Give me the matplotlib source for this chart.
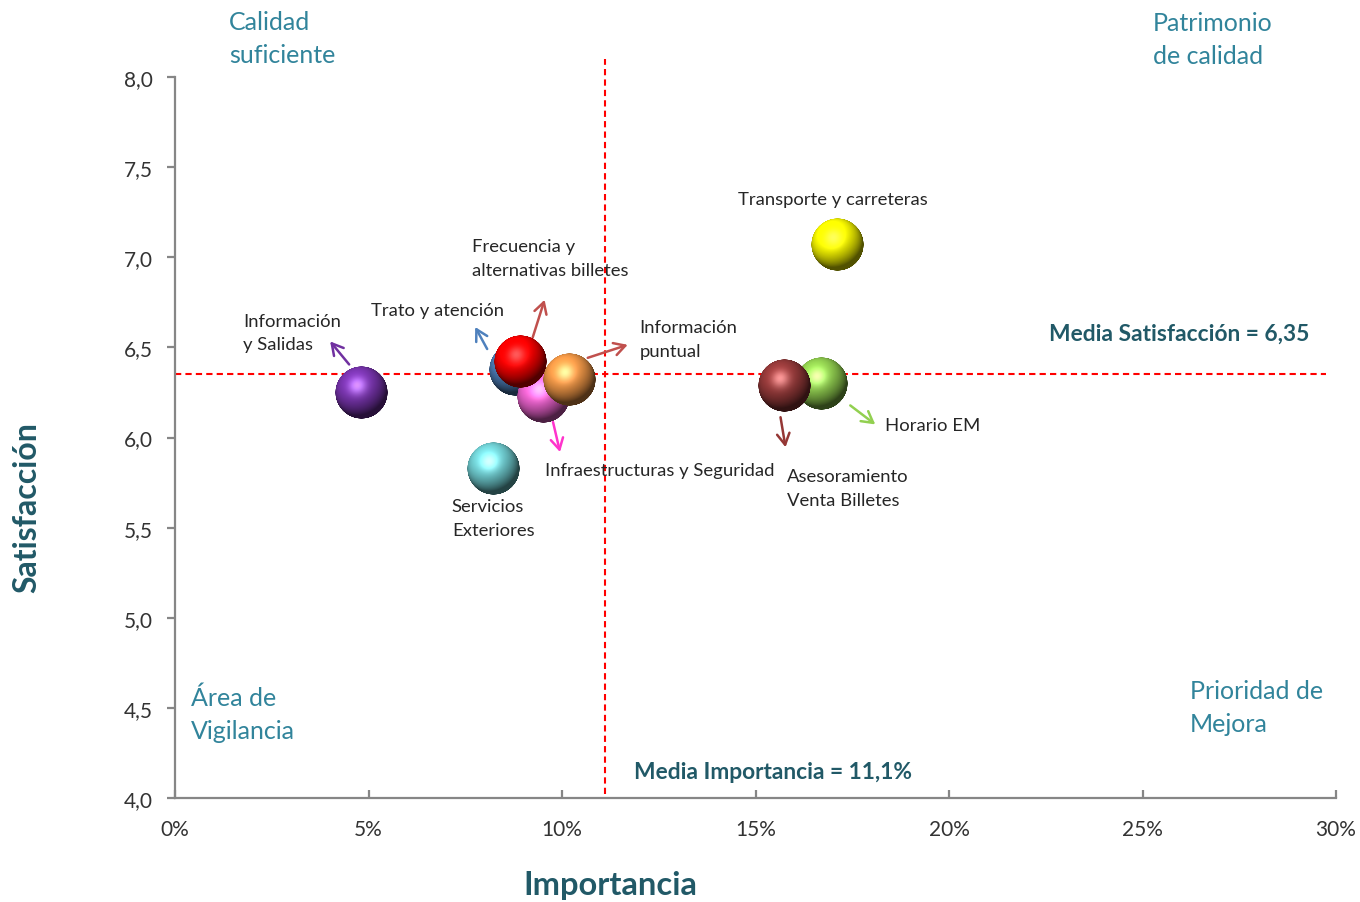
import matplotlib
matplotlib.use('Agg')
import matplotlib.pyplot as plt
import matplotlib.transforms as mtransforms
from matplotlib.offsetbox import OffsetImage, AnnotationBbox
from matplotlib.ticker import FuncFormatter, MultipleLocator
import numpy as np

plt.rcParams['font.family'] = ['Lato', 'DejaVu Sans']

# Datos (orden de dibujo = orden de solape)
categorias = ['Información\ny Salidas', 'Servicios\nExteriores', 'Trato y atención',
              'Infraestructuras y Seguridad', 'Frecuencia y\nalternativas billetes',
              'Información\npuntual', 'Horario EM', 'Asesoramiento\nVenta Billetes',
              'Transporte y carreteras']
importancia = [4.81, 8.24, 8.79, 9.51, 8.93, 10.20, 16.70, 15.75, 17.12]   # %
satisfaccion = [6.25, 5.83, 6.38, 6.23, 6.42, 6.32, 6.30, 6.29, 7.07]
media_importancia = 11.1
media_satisfaccion = 6.35

colores = ['#7a35b0', '#72d2d6', '#4f81bd', '#f064d2', '#ff0000',
           '#f59a48', '#92d050', '#963a3a', '#ffff00']
colores_flecha = ['#7030a0', None, '#4f81bd', '#ff33cc', '#c0504d',
                  '#c0504d', '#92d050', '#953735', None]

# desplazamientos en píxeles respecto al centro de cada burbuja
pos_etiqueta = [(-118, 60), (-42, -50), (-144, 59), (2, -74), (-49, 104),
                (70, 41), (64, -42), (2, -103), (-100, 46)]
flechas = [((-12, 28), (-31, 51)), None, ((-28, 20), (-40, 42)), ((10, -26), (17, -56)),
           ((12, 24), (24, 62)), ((18, 22), (58, 35)), ((29, -22), (54, -41)),
           ((-4, -32), (1, -62)), None]

TEAL = '#31849b'
DARK_TEAL = '#215967'
GRIS = '#868686'


def esfera(rgb, n=160):
    t = np.linspace(-1, 1, n)
    u, v = np.meshgrid(t, -t)
    r2 = u**2 + v**2
    z = np.sqrt(np.clip(1 - r2, 0, 1))
    L = np.array([-0.3, 0.5, 0.8]); L /= np.linalg.norm(L)
    H = L + np.array([0, 0, 1.0]); H /= np.linalg.norm(H)
    diff = np.clip(u*L[0] + v*L[1] + z*L[2], 0, 1)
    spec = np.clip(u*H[0] + v*H[1] + z*H[2], 0, 1) ** 18
    base = np.array(matplotlib.colors.to_rgb(rgb))
    col = base * (0.32 + 0.8*diff)[..., None] + 0.35*spec[..., None]
    col = np.clip(col, 0, 1)
    alpha = np.clip((1 - np.sqrt(r2)) * n / 2, 0, 1)
    return np.dstack([col, alpha])


fig = plt.figure(figsize=(13.6, 9.03), dpi=100)
ax = fig.add_axes([175/1360, 1 - 799/903, 1161/1360, 721/903])
ax.set_xlim(0, 30)
ax.set_ylim(4, 8)

for s in ['top', 'right']:
    ax.spines[s].set_visible(False)
for s in ['left', 'bottom']:
    ax.spines[s].set_color(GRIS)
    ax.spines[s].set_linewidth(1.6)

ax.xaxis.set_major_locator(MultipleLocator(5))
ax.yaxis.set_major_locator(MultipleLocator(0.5))
ax.xaxis.set_major_formatter(FuncFormatter(lambda v, p: f'{v:.0f}%'))
ax.yaxis.set_major_formatter(FuncFormatter(lambda v, p: f'{v:.1f}'.replace('.', ',')))
ax.tick_params(axis='x', direction='in', length=6, width=1.6, color=GRIS,
               labelsize=15, labelcolor='#333333', pad=15)
ax.tick_params(axis='y', direction='out', length=6, width=1.6, color=GRIS,
               labelsize=15, labelcolor='#333333', pad=10)

# líneas de medias
ax.axvline(media_importancia, ymin=0.005, ymax=1.025, color='red', lw=1.5,
           ls=(0, (3, 2)), clip_on=False, zorder=1)
ax.axhline(media_satisfaccion, xmin=0, xmax=0.991, color='red', lw=1.5,
           ls=(0, (3, 2)), zorder=1)

# burbujas
for i, (x, y, c) in enumerate(zip(importancia, satisfaccion, colores)):
    img = OffsetImage(esfera(c), zoom=53/160, dpi_cor=False)
    ab = AnnotationBbox(img, (x, y), frameon=False, pad=0, zorder=3 + i)
    ax.add_artist(ab)

# flechas y etiquetas
for x, y, nombre, off, fl, cf in zip(importancia, satisfaccion, categorias,
                                     pos_etiqueta, flechas, colores_flecha):
    if fl is not None:
        (sx, sy), (ex, ey) = fl
        t_ini = mtransforms.offset_copy(ax.transData, fig=fig, x=sx, y=sy, units='dots')
        t_fin = mtransforms.offset_copy(ax.transData, fig=fig, x=ex, y=ey, units='dots')
        ax.annotate('', xy=(x, y), xycoords=t_fin, xytext=(x, y), textcoords=t_ini,
                    arrowprops=dict(arrowstyle='->,head_length=0.8,head_width=0.45',
                                    color=cf, lw=1.8, shrinkA=0, shrinkB=0),
                    zorder=2)
    ax.annotate(nombre, xy=(x, y), xytext=off, textcoords='offset pixels',
                ha='left', va='center', fontsize=13.3, color='#262626',
                linespacing=1.6, zorder=20)

# cuadrantes
cuad = dict(fontsize=18, color=TEAL, ha='left', va='center', linespacing=1.5)
fig.text(229/1360, 1 - 39/903, 'Calidad\nsuficiente', **cuad)
fig.text(1153/1360, 1 - 40/903, 'Patrimonio\nde calidad', **cuad)
fig.text(191/1360, 1 - 715/903, 'Área de\nVigilancia', **cuad)
fig.text(1190/1360, 1 - 708/903, 'Prioridad de\nMejora', **cuad)

fig.text(1049/1360, 1 - 334/903,
         f'Media Satisfacción = {media_satisfaccion:.2f}'.replace('.', ','),
         fontsize=16.4, fontweight='bold', color=DARK_TEAL, ha='left', va='center')
fig.text(634/1360, 1 - 773/903,
         f'Media Importancia = {media_importancia:.1f}%'.replace('.', ','),
         fontsize=16.4, fontweight='bold', color=DARK_TEAL, ha='left', va='center')

fig.text(27/1360, 1 - 508/903, 'Satisfacción', rotation=90, fontsize=23,
         fontweight='bold', color=DARK_TEAL, ha='center', va='center')
fig.text(610/1360, 1 - 886/903, 'Importancia', fontsize=23.5,
         fontweight='bold', color=DARK_TEAL, ha='center', va='center')

fig.savefig('out.png', dpi=100, facecolor='white')
